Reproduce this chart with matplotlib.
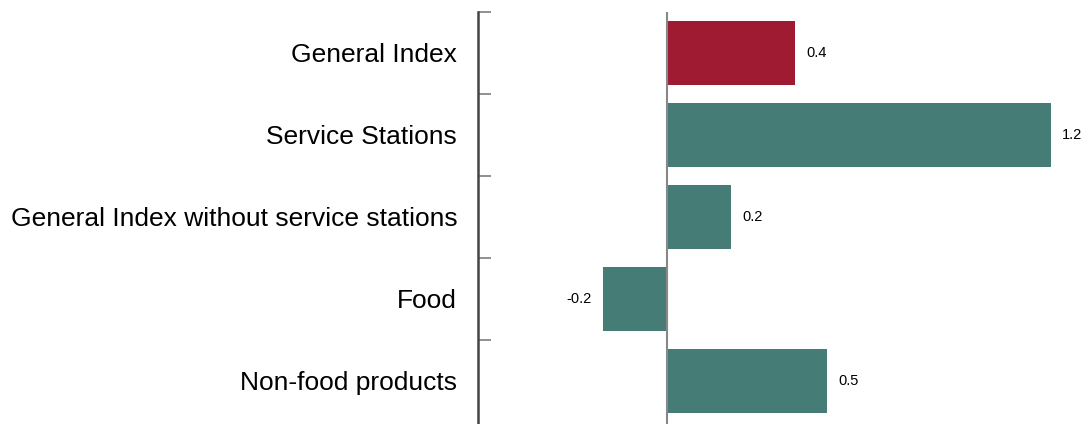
import matplotlib.pyplot as plt
from matplotlib.ticker import FixedLocator

plt.rcParams['font.family'] = ['Liberation Sans', 'DejaVu Sans']

categories = ["General Index", "Service Stations",
              "General Index without service stations", "Food", "Non-food products"]
values = [0.4, 1.2, 0.2, -0.2, 0.5]
colors = ["#9E1B32", "#457D76", "#457D76", "#457D76", "#457D76"]

fig = plt.figure(figsize=(10.89, 4.24), dpi=100)
ax = fig.add_axes([478 / 1089, 0, 1 - 478 / 1089, 412 / 424])

pos = list(range(len(categories)))
ax.barh(pos, values, height=0.78, color=colors, zorder=2)
ax.set_ylim(len(categories) - 0.5 + 0.03, -0.5)
ax.set_xlim(-0.59, 1.32)
ax.axvline(0, color="#888888", lw=1.5, zorder=3)

for p, v in zip(pos, values):
    if v >= 0:
        ax.text(v + 0.035, p, f"{v:.1f}", va="center", ha="left", fontsize=10.5)
    else:
        ax.text(v - 0.035, p, f"{v:.1f}", va="center", ha="right", fontsize=10.5)

ax.set_yticks(pos)
ax.set_yticklabels(categories, fontsize=19)
ax.tick_params(axis="y", which="major", length=0, pad=15)
ax.yaxis.set_minor_locator(FixedLocator([p - 0.5 for p in pos]))
ax.tick_params(axis="y", which="minor", direction="in", length=9, width=1.3, color="#888888")
ax.set_xticks([])
for s in ["top", "right", "bottom"]:
    ax.spines[s].set_visible(False)
ax.spines["left"].set_color("#444444")
ax.spines["left"].set_linewidth(1.8)

fig.savefig("out.png")
